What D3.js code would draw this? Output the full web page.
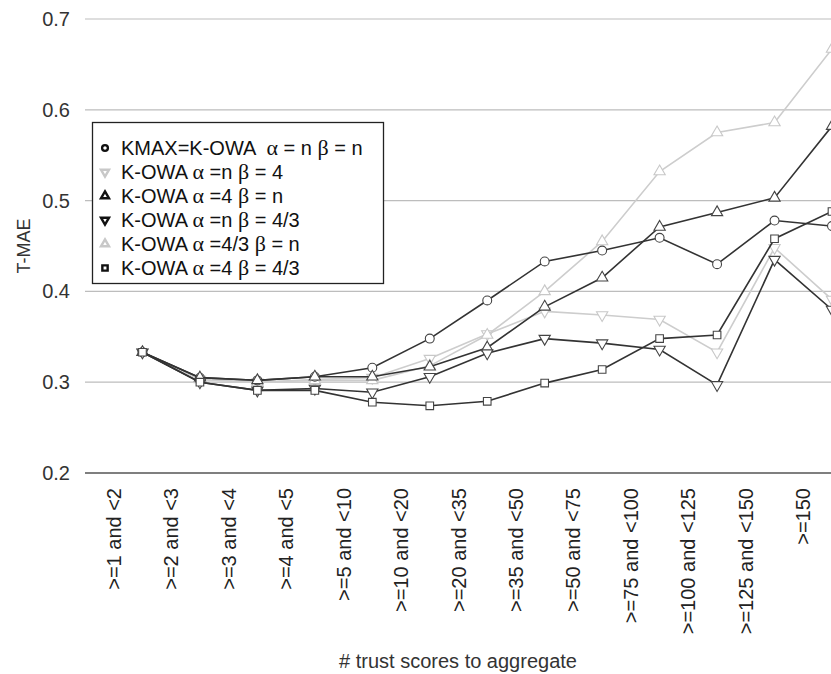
<!DOCTYPE html>
<html>
<head>
<meta charset="utf-8">
<script src="https://cdn.jsdelivr.net/npm/d3@7"></script>
<style>
  body { margin: 0; background: #fff; }
  svg { display: block; font-family: "Liberation Sans", Arial, sans-serif; }
</style>
</head>
<body>
<div id="chart"></div>
<script>
const categories = [">=1 and <2", ">=2 and <3", ">=3 and <4", ">=4 and <5", ">=5 and <10",
  ">=10 and <20", ">=20 and <35", ">=35 and <50", ">=50 and <75", ">=75 and <100",
  ">=100 and <125", ">=125 and <150", ">=150"];

const kmax   = [0.333, 0.305, 0.302, 0.306, 0.316, 0.348, 0.390, 0.433, 0.445, 0.459, 0.430, 0.478, 0.472];
const owaN4  = [0.333, 0.303, 0.300, 0.303, 0.305, 0.326, 0.353, 0.378, 0.374, 0.369, 0.333, 0.448, 0.391];
const owa4N  = [0.333, 0.305, 0.302, 0.306, 0.306, 0.317, 0.338, 0.383, 0.415, 0.471, 0.487, 0.503, 0.582];
const owaN43 = [0.333, 0.300, 0.291, 0.293, 0.289, 0.306, 0.332, 0.348, 0.343, 0.336, 0.297, 0.435, 0.380];
const owa43N = [0.333, 0.303, 0.300, 0.302, 0.302, 0.318, 0.352, 0.400, 0.455, 0.532, 0.575, 0.586, 0.667];
const owa443 = [0.333, 0.300, 0.291, 0.291, 0.278, 0.274, 0.279, 0.299, 0.314, 0.348, 0.352, 0.458, 0.488];

const yTicks = [0.2, 0.3, 0.4, 0.5, 0.6, 0.7];

const dark = "#333", light = "#cdcdcd";

// legend parts: [before alpha, after alpha, after beta]
const series = [
  { values: kmax,   color: dark,  symbol: "circle",   label: ["KMAX=K-OWA  ", " = n ", " = n"] },
  { values: owaN4,  color: light, symbol: "down",     label: ["K-OWA ", " =n ", " = 4"] },
  { values: owa4N,  color: dark,  symbol: "up",       label: ["K-OWA ", " =4 ", " = n"] },
  { values: owaN43, color: dark,  symbol: "down",     label: ["K-OWA ", " =n ", " = 4/3"] },
  { values: owa43N, color: light, symbol: "up",       label: ["K-OWA ", " =4/3 ", " = n"] },
  { values: owa443, color: dark,  symbol: "square",   label: ["K-OWA ", " =4 ", " = 4/3"] }
];

const width = 831, height = 674;
const plotLeft = 85, plotRight = 832, plotTop = 19, plotBottom = 473;

const svg = d3.select("#chart").append("svg")
  .attr("width", width)
  .attr("height", height);

const x = d3.scaleBand().domain(categories).range([plotLeft, plotRight]);
const y = d3.scaleLinear().domain([0.2, 0.7]).range([plotBottom, plotTop]);

// points sit at the right edge of each category band
const px = (i) => x(categories[i]) + x.step();

// gridlines
svg.append("g")
  .selectAll("line")
  .data(yTicks)
  .enter().append("line")
  .attr("x1", plotLeft).attr("x2", width)
  .attr("y1", d => y(d)).attr("y2", d => y(d))
  .attr("stroke", d => d === 0.2 ? "#555" : "#bdbdbd")
  .attr("stroke-width", d => d === 0.2 ? 1.5 : 1.2);

// y tick labels
svg.append("g")
  .selectAll("text")
  .data(yTicks)
  .enter().append("text")
  .attr("x", 70)
  .attr("y", d => y(d))
  .attr("dy", "0.35em")
  .attr("text-anchor", "end")
  .style("font-size", "20px")
  .attr("fill", "#333")
  .text(d => d3.format(".1f")(d));

// x tick labels
svg.append("g")
  .selectAll("text")
  .data(categories)
  .enter().append("text")
  .attr("transform", d => `translate(${x(d) + x.bandwidth() / 2 + 7},488) rotate(-90)`)
  .attr("text-anchor", "end")
  .style("font-size", "20px")
  .attr("fill", "#222")
  .text(d => d);

// axis titles
svg.append("text")
  .attr("transform", `translate(30,${(plotTop + plotBottom) / 2}) rotate(-90)`)
  .attr("text-anchor", "middle")
  .style("font-size", "18px")
  .attr("fill", "#333")
  .text("T-MAE");

svg.append("text")
  .attr("x", 458)
  .attr("y", 668)
  .attr("text-anchor", "middle")
  .style("font-size", "20px")
  .attr("fill", "#333")
  .text("# trust scores to aggregate");

function symbolPath(kind, size) {
  if (kind === "circle") return d3.symbol(d3.symbolCircle, size)();
  if (kind === "square") return d3.symbol(d3.symbolSquare, size)();
  return d3.symbol(d3.symbolTriangle, size)();
}

const line = d3.line()
  .x((d, i) => px(i))
  .y(d => y(d));

// draw light series first so dark ones sit on top
const order = [1, 4, 0, 2, 3, 5];
order.forEach(k => {
  const s = series[k];
  const g = svg.append("g");
  g.append("path")
    .datum(s.values)
    .attr("d", line)
    .attr("fill", "none")
    .attr("stroke", s.color)
    .attr("stroke-width", 1.6);

  const size = s.symbol === "circle" ? 62 : s.symbol === "square" ? 58 : 55;
  g.selectAll("path.mark")
    .data(s.values)
    .enter().append("path")
    .attr("class", "mark")
    .attr("d", symbolPath(s.symbol, size))
    .attr("transform", (d, i) => `translate(${px(i)},${y(d)})` + (s.symbol === "down" ? " rotate(180)" : ""))
    .attr("fill", "#fff")
    .attr("stroke", s.color === dark ? "#444" : "#c8c8c8")
    .attr("stroke-width", 1.1);
});

// legend
const legend = svg.append("g");
legend.append("rect")
  .attr("x", 92.5).attr("y", 122.5)
  .attr("width", 291).attr("height", 161)
  .attr("fill", "#fff")
  .attr("stroke", "#222")
  .attr("stroke-width", 1.3);

const rows = legend.selectAll("g.row")
  .data(series)
  .enter().append("g")
  .attr("class", "row")
  .attr("transform", (d, i) => `translate(0,${148 + i * 24})`);

rows.append("path")
  .attr("d", d => symbolPath(d.symbol, d.symbol === "circle" ? 26 : 28))
  .attr("transform", d => `translate(105,0)` + (d.symbol === "down" ? " rotate(180)" : ""))
  .attr("fill", "#fff")
  .attr("stroke", d => d.color === dark ? "#111" : "#c8c8c8")
  .attr("stroke-width", 2.4);

const txt = rows.append("text")
  .attr("x", 121)
  .attr("dy", "0.35em")
  .style("font-size", "20px")
  .style("white-space", "pre")
  .attr("fill", "#111");
txt.append("tspan").text(d => d.label[0]);
txt.append("tspan").style("font-family", "'Liberation Serif', 'DejaVu Serif', serif").style("font-size", "22px").text("α");
txt.append("tspan").text(d => d.label[1]);
txt.append("tspan").style("font-family", "'Liberation Serif', 'DejaVu Serif', serif").style("font-size", "22px").text("β");
txt.append("tspan").text(d => d.label[2]);
</script>
</body>
</html>
